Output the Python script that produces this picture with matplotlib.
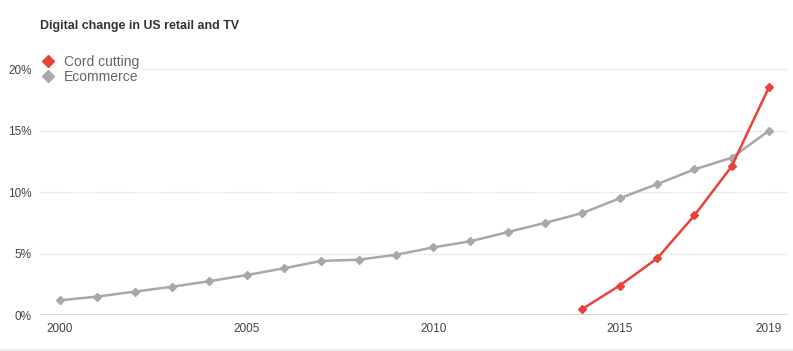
import matplotlib.pyplot as plt
from matplotlib.lines import Line2D

plt.rcParams['font.family'] = ['Liberation Sans', 'DejaVu Sans']

years = list(range(2000, 2020))
ecommerce = [1.2, 1.5, 1.9, 2.3, 2.75, 3.25, 3.8, 4.4, 4.5, 4.9,
             5.5, 6.0, 6.75, 7.5, 8.3, 9.5, 10.65, 11.85, 12.8, 15.0]
cord_years = [2014, 2015, 2016, 2017, 2018, 2019]
cord_cutting = [0.5, 2.4, 4.6, 8.1, 12.1, 18.55]

y_ticks = [0, 5, 10, 15, 20]
y_labels = ['0%', '5%', '10%', '15%', '20%']
x_ticks = [2000, 2005, 2010, 2015, 2019]

red = '#e8423b'
gray = '#a8a8a8'

fig = plt.figure(figsize=(7.93, 3.51), dpi=100)
ax = fig.add_axes([40 / 793, 36 / 351, 748 / 793, 258 / 351])

ax.plot(years, ecommerce, color=gray, lw=1.8, marker='D', ms=4.5, zorder=3, clip_on=False)
ax.plot(cord_years, cord_cutting, color=red, lw=1.8, marker='D', ms=4.5, zorder=4, clip_on=False)

ax.set_xlim(1999.464, 2019.509)
ax.set_ylim(0, 21)
ax.set_yticks(y_ticks)
ax.set_yticklabels(y_labels)
ax.set_xticks(x_ticks)
ax.set_xticklabels([str(x) for x in x_ticks])

for y in y_ticks[1:]:
    ax.axhline(y, color='#cfcfcf', lw=0.8, ls=(0, (1, 1.5)), zorder=1)
ax.axhline(0, color='#d0d0d0', lw=1.2, zorder=1)

for s in ax.spines.values():
    s.set_visible(False)
ax.tick_params(length=0, labelsize=8.5, colors='#444444')
ax.tick_params(axis='y', pad=5.8)
ax.tick_params(axis='x', pad=6)

handles = [Line2D([], [], color=red, marker='D', ms=6.5, ls='none'),
           Line2D([], [], color=gray, marker='D', ms=6.5, ls='none')]
leg = ax.legend(handles, ['Cord cutting', 'Ecommerce'], loc='upper left',
                bbox_to_anchor=(-0.002, 1.019), frameon=True, fontsize=10,
                handletextpad=0.6, handlelength=1.0, labelspacing=0.1,
                borderpad=0.1, borderaxespad=0.1)
leg.get_frame().set_edgecolor('white')
leg.get_frame().set_facecolor('white')
leg.get_frame().set_alpha(1)
for t in leg.get_texts():
    t.set_color('#666666')
leg.set_zorder(5)

fig.text(40 / 793, 1 - 28.5 / 351, 'Digital change in US retail and TV', fontsize=8.9,
         fontweight='bold', color='#333333', va='baseline', ha='left')

fig.add_artist(Line2D([0, 1], [1.5 / 351, 1.5 / 351], color='#eeeeee', lw=1.5))

fig.savefig('out.png', dpi=100)
